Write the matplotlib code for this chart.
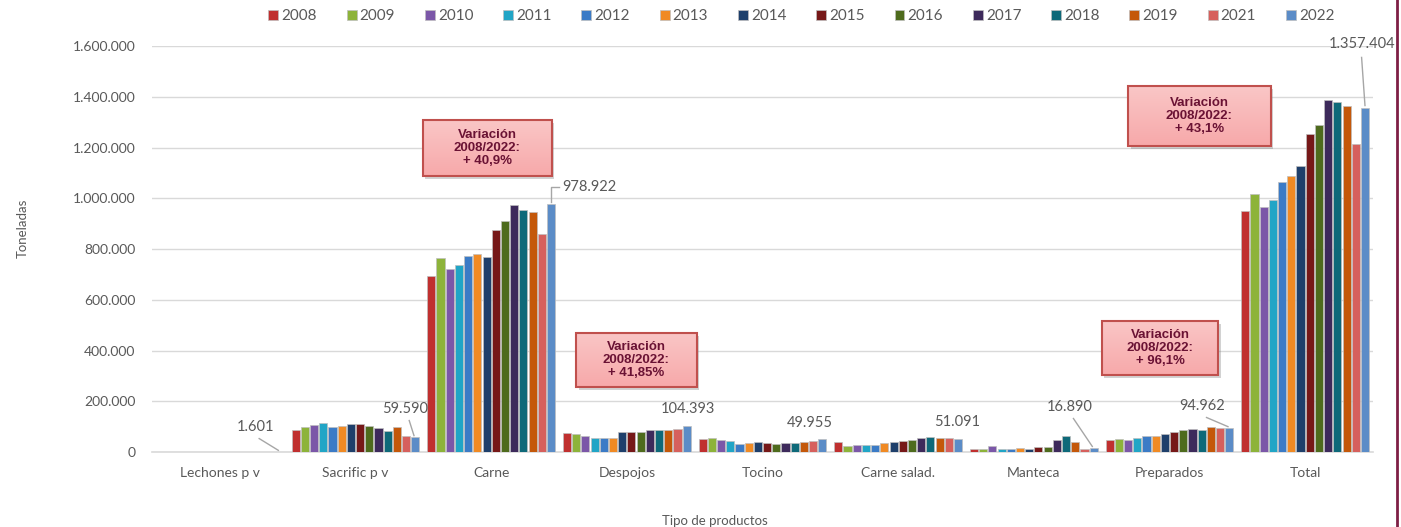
import numpy as np
import matplotlib
matplotlib.use("Agg")
import matplotlib.pyplot as plt
from matplotlib.patches import Rectangle
from matplotlib.ticker import FuncFormatter
from matplotlib.lines import Line2D
from matplotlib.colors import LinearSegmentedColormap

FONT = "Lato"
GREY = "#595959"
GRID = "#D9D9D9"

categorias = ["Lechones p v", "Sacrific p v", "Carne", "Despojos", "Tocino",
              "Carne salad.", "Manteca", "Preparados", "Total"]
anios = ["2008", "2009", "2010", "2011", "2012", "2013", "2014",
         "2015", "2016", "2017", "2018", "2019", "2021", "2022"]

# toneladas por tipo de producto, una lista por año
t2008 = [1700, 86700, 694763, 73594, 50000, 38000, 12000, 48425, 948570]
t2009 = [1800, 97000, 764600, 70000, 54000, 25000, 10000, 52000, 1016800]
t2010 = [1900, 106000, 722500, 62000, 47000, 27000, 22000, 49000, 966800]
t2011 = [2000, 113000, 735700, 57000, 45000, 27000, 12000, 56000, 993000]
t2012 = [1800, 97000, 773700, 55000, 30000, 27000, 12000, 65000, 1065000]
t2013 = [1700, 101000, 781600, 55000, 34000, 34000, 17000, 65000, 1086000]
t2014 = [1600, 110000, 767200, 78000, 38000, 38000, 10000, 70000, 1128000]
t2015 = [1600, 110000, 873600, 78000, 34000, 44000, 21000, 79000, 1254000]
t2016 = [1500, 104000, 910400, 80000, 30000, 47000, 18000, 86000, 1287500]
t2017 = [1500, 93000, 973400, 85000, 34000, 54000, 47000, 92000, 1387000]
t2018 = [1500, 84000, 952500, 85000, 34000, 58000, 64000, 88000, 1380500]
t2019 = [1600, 97000, 947000, 88000, 39000, 54000, 40000, 99000, 1363600]
t2021 = [1600, 63000, 860400, 90000, 45000, 54000, 12000, 96000, 1215000]
t2022 = [1601, 59590, 978922, 104393, 49955, 51091, 16890, 94962, 1357404]
series = [t2008, t2009, t2010, t2011, t2012, t2013, t2014,
          t2015, t2016, t2017, t2018, t2019, t2021, t2022]

colores = ["#C0302F", "#8DB33A", "#7B57A8", "#21A5C6", "#3B7BC6", "#F08A24",
           "#1E3F6B", "#761818", "#4E6B1D", "#3D2A5B", "#0E6979", "#C4580A",
           "#D6605D", "#5B8CC7"]

# cajas de variación: (x, y centro, ancho, alto, texto)
variaciones = [
    (1.97, 1198000, 0.95, 218000, "Variación\n2008/2022:\n+ 40,9%"),
    (3.07, 362000, 0.89, 213000, "Variación\n2008/2022:\n+ 41,85%"),
    (6.93, 410000, 0.86, 213000, "Variación\n2008/2022:\n+ 96,1%"),
    (7.22, 1324000, 1.05, 236000, "Variación\n2008/2022:\n+ 43,1%"),
]


def miles(v, pos=None):
    return f"{int(round(v)):,}".replace(",", ".")


fig = plt.figure(figsize=(14.01, 5.27), dpi=100)
ax = fig.add_axes([0.1085, 0.1423, 0.8715, 0.7704])

n = len(series)
x = np.arange(len(categorias))
slot = 0.95 / n
for i, (vals, c) in enumerate(zip(series, colores)):
    xs = x + (i - (n - 1) / 2) * slot
    ax.bar(xs, vals, width=slot * 0.88, color=c, edgecolor="#BFBFBF",
           linewidth=0.5, label=anios[i], zorder=3)

ax.set_xlim(-0.5, len(categorias) - 0.5)
ax.set_ylim(0, 1600000)
ax.set_yticks(np.arange(0, 1600001, 200000))
ax.yaxis.set_major_formatter(FuncFormatter(miles))
ax.grid(axis="y", color=GRID, lw=1, zorder=0)
for s in ["top", "right", "left"]:
    ax.spines[s].set_visible(False)
ax.spines["bottom"].set_color(GRID)
ax.spines["bottom"].set_linewidth(1.2)
ax.tick_params(axis="y", length=0, pad=12, labelsize=10, labelcolor=GREY)
ax.tick_params(axis="x", length=0, pad=11, labelsize=10, labelcolor=GREY)
ax.set_xticks(x)
ax.set_xticklabels(categorias)
for t in ax.get_xticklabels() + ax.get_yticklabels():
    t.set_fontfamily(FONT)

fig.text(0.51, 0.0, "Tipo de productos", ha="center", va="bottom",
         fontsize=9.5, color=GREY, family=FONT)
fig.text(0.016, 0.567, "Toneladas", ha="center", va="center", rotation=90,
         fontsize=9.5, color=GREY, family=FONT)

# etiquetas de 2022
x22 = x + (n - 1) / 2 * slot
lab = dict(fontsize=10.5, color=GREY, family=FONT, zorder=6)
lead = dict(color="#A6A6A6", lw=1, zorder=5)
etiquetas = [  # (categoría, x texto, y texto, con línea)
    (0, 0.26, 98000, True),
    (1, 1.366, 169000, True),
    (3, 3.45, 169000, False),
    (4, 4.35, 114000, False),
    (5, 5.436, 118000, False),
    (6, 6.262, 177000, True),
    (7, 7.243, 181000, True),
]
for k, tx, ty, line in etiquetas:
    v = t2022[k]
    ax.text(tx, ty, miles(v), ha="center", va="center", **lab)
    if line:
        ax.plot([tx + 0.03, x22[k] - 0.01], [ty - 45000, v + 5000], **lead)

# Carne: línea en codo
ax.plot([x22[2], x22[2], x22[2] + 0.06], [t2022[2] + 8000, 1044000, 1044000], **lead)
ax.text(x22[2] + 0.08, 1044000, miles(t2022[2]), ha="left", va="center", **lab)
# Total
ax.plot([x22[8] - 0.025, x22[8]], [1555000, t2022[8] + 8000], clip_on=False, **lead)
ax.text(x22[8] - 0.02, 1608000, miles(t2022[8]), ha="center", va="center",
        clip_on=False, **lab)

# cajas de variación con degradado suave
grad = np.linspace(0, 1, 64).reshape(-1, 1)
cmap = LinearSegmentedColormap.from_list("rosa", ["#F7A9AA", "#FAC6C6"])
for cx, cy, w, h, txt in variaciones:
    ax.add_patch(Rectangle((cx - w / 2 + 0.02, cy - h / 2 - 12000), w, h,
                           facecolor="#7F7F7F", alpha=0.35, lw=0, zorder=6))
    im = ax.imshow(grad, cmap=cmap, aspect="auto", origin="lower",
                   extent=(cx - w / 2, cx + w / 2, cy - h / 2, cy + h / 2), zorder=7)
    r = Rectangle((cx - w / 2, cy - h / 2), w, h, facecolor="none",
                  edgecolor="#C0504D", lw=1.5, zorder=8)
    ax.add_patch(r)
    im.set_clip_path(r)
    ax.text(cx, cy, txt, ha="center", va="center", fontsize=9.5, fontweight="bold",
            color="#6A1234", family="Liberation Sans", linespacing=1.1, zorder=9)
ax.set_xlim(-0.5, len(categorias) - 0.5)
ax.set_ylim(0, 1600000)

leg = fig.legend(loc="center", bbox_to_anchor=(0.572, 0.969), ncol=n, frameon=False,
                 handlelength=0.65, handleheight=0.65, handletextpad=0.2,
                 columnspacing=1.95, prop={"family": FONT, "size": 11})
for t in leg.get_texts():
    t.set_color(GREY)

fig.add_artist(Line2D([1397 / 1401, 1397 / 1401], [0, 1], color="#7E1F45", lw=2,
                      transform=fig.transFigure))

fig.savefig("out.png", dpi=100, facecolor="white")
